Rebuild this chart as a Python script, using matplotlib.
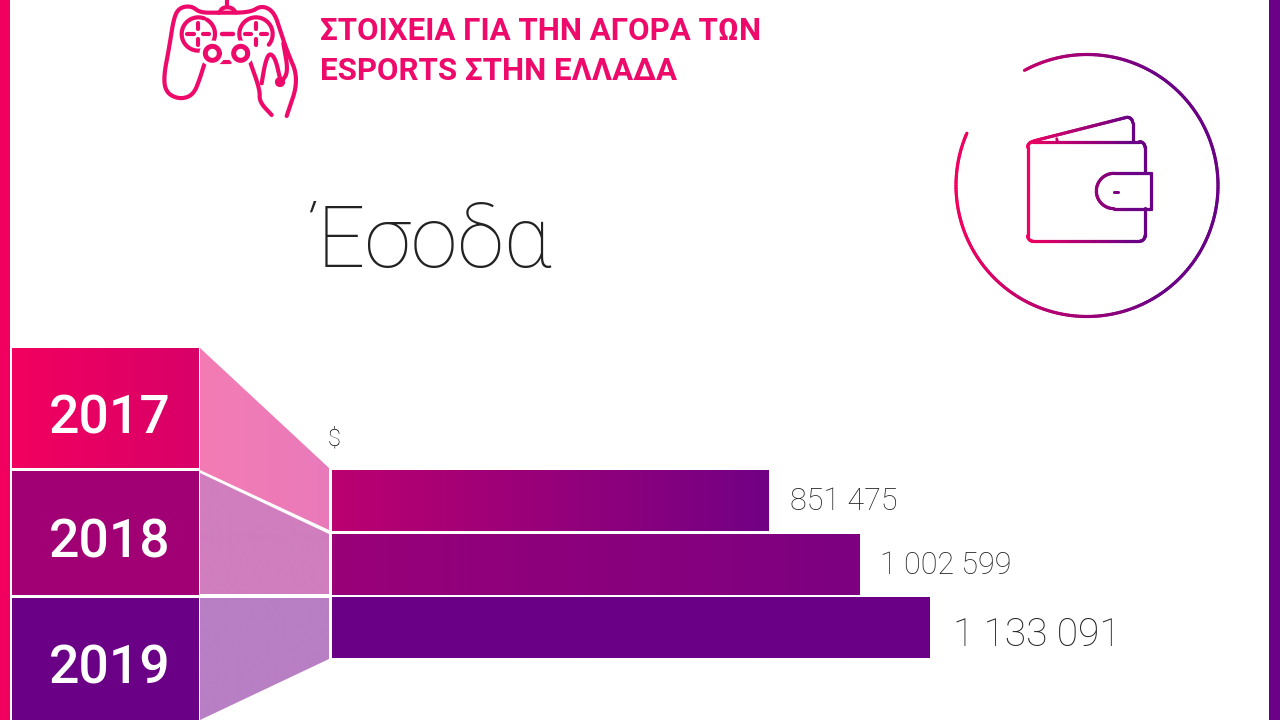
import numpy as np
import matplotlib
matplotlib.use('Agg')
import matplotlib.pyplot as plt
from matplotlib.collections import LineCollection
from matplotlib.colors import LinearSegmentedColormap
from matplotlib.patches import Polygon, Rectangle

years = ['2017', '2018', '2019']
revenue_labels = ['851 475', '1 002 599', '1 133 091']
# bar lengths, in dollars (the 2017 bar is drawn a bit short)
bar_lengths = [828000, 1000000, 1133091]

PINK = '#F2005F'
PURPLE = '#6A0085'
TITLE_PINK = '#EE0A6B'
grad = LinearSegmentedColormap.from_list('pp', [PINK, PURPLE])

plt.rcParams['font.family'] = 'Roboto'

fig = plt.figure(figsize=(12.8, 7.2), dpi=100)
bg = fig.add_axes([0, 0, 1, 1])
bg.axis('off')

# side strips
bg.add_patch(Rectangle((0, 0), 10, 720, color=PINK, lw=0))
bg.add_patch(Rectangle((1269, 0), 11, 720, color=PURPLE, lw=0))


def gradient_fill(ax, patch, c0, c1, extent):
    cmap = LinearSegmentedColormap.from_list('g', [c0, c1])
    im = ax.imshow(np.linspace(0, 1, 256).reshape(1, -1), cmap=cmap, extent=extent,
                   aspect='auto', zorder=patch.get_zorder())
    im.set_clip_path(patch)


# year blocks
block_tops = [348, 471, 598]
block_bottoms = [468, 595, 720]
block_cols = [(PINK, '#D80068'), ('#A20074', '#A00075'), (PURPLE, PURPLE)]
for y0, y1, cols, year, base in zip(block_tops, block_bottoms, block_cols, years, [433, 558, 683]):
    r = Rectangle((12, y0), 187, y1 - y0, fc='none', lw=0)
    bg.add_patch(r)
    gradient_fill(bg, r, cols[0], cols[1], (12, 199, y1, y0))
    bg.text(110, base, year, color='white', fontsize=38.5, weight='medium',
            ha='center', va='baseline', zorder=5)

# lighter connectors
connectors = [[(200, 348), (329, 468), (329, 530), (200, 470)],
              [(200, 473), (329, 534), (329, 594), (200, 594)],
              [(200, 598), (329, 598), (329, 659), (200, 720)]]
conn_cols = [('#F47CB4', '#E97ABA'), ('#D07EBE', '#D07EBE'), ('#B87FC4', '#B87FC4')]
for pts, cols in zip(connectors, conn_cols):
    p = Polygon(pts, closed=True, fc='none', lw=0)
    bg.add_patch(p)
    gradient_fill(bg, p, cols[0], cols[1], (200, 329, 720, 348))
bg.set_xlim(0, 1280)
bg.set_ylim(720, 0)

# bars, in their own axes so the length comes from the dollar scale
bar_ax = fig.add_axes([332 / 1280, 1 - 659.5 / 720, (930 - 332) / 1280, (659.5 - 469) / 720])
bar_ax.axis('off')
bars = bar_ax.barh(range(3), bar_lengths, height=0.96, color='none', lw=0)
bar_cols = [('#BB0070', '#720084'), ('#990078', '#7C0081'), (PURPLE, PURPLE)]
for b, cols in zip(bars, bar_cols):
    w = b.get_width()
    gradient_fill(bar_ax, b, cols[0], cols[1], (0, w, 2.5, -0.5))
bar_ax.set_xlim(0, bar_lengths[2])
bar_ax.set_ylim(2.5, -0.5)

# value labels
bg.text(790, 510, revenue_labels[0], fontsize=22, weight='light', color='#222222', zorder=5)
bg.text(880, 574, revenue_labels[1], fontsize=22, weight='light', color='#222222', zorder=5)
bg.text(953, 646, revenue_labels[2], fontsize=28, weight='light', color='#222222', zorder=5)
bg.text(334, 446, '$', fontsize=17, weight='light', color='#111111', ha='center')

# headings
bg.text(320, 39.5, 'ΣΤΟΙΧΕΙΑ ΓΙΑ ΤΗΝ ΑΓΟΡΑ ΤΩΝ', fontsize=22.5, weight='bold', color=TITLE_PINK)
bg.text(320, 80.5, 'ESPORTS ΣΤΗΝ ΕΛΛΑΔΑ', fontsize=22.5, weight='bold', color=TITLE_PINK)
bg.text(312, 267, 'Έσοδα', fontsize=61, weight='ultralight', color='#222222')


def smooth(pts, n=3):
    pts = np.array(pts, float)
    for _ in range(n):
        q = 0.75 * pts[:-1] + 0.25 * pts[1:]
        r = 0.25 * pts[:-1] + 0.75 * pts[1:]
        mid = np.empty((2 * len(q), 2))
        mid[0::2] = q
        mid[1::2] = r
        pts = np.vstack([pts[0], mid, pts[-1]])
    return pts


def pad(pts):
    pts = np.array(pts, float)
    return np.column_stack([150 + pts[:, 0] / 3, pts[:, 1] / 3])


def arc(cx, cy, r, a0, a1, n=60):
    t = np.radians(np.linspace(a0, a1, n))
    return np.column_stack([cx + r * np.cos(t), cy + r * np.sin(t)])


def pad_line(pts, lw=3.0, curve=True, color=TITLE_PINK):
    xy = pad(pts)
    if curve:
        xy = smooth(xy)
    bg.plot(xy[:, 0], xy[:, 1], color=color, lw=lw, solid_capstyle='round',
            solid_joinstyle='round')


pad_line([(232, 0), (232, 18)], curve=False)
pad_line([(208, 38), (218, 22), (245, 22), (258, 38)])
pad_line([(205, 38), (150, 38), (125, 18), (90, 22), (72, 50), (58, 140), (40, 235), (50, 280),
          (90, 298), (130, 285), (150, 235), (165, 185), (172, 185)])
pad_line([(205, 38), (300, 38), (335, 16), (372, 35), (392, 95), (410, 150), (447, 238), (410, 348)])
pad_line([(205, 185), (240, 185)], curve=False)
pad_line([(300, 185), (330, 270), (328, 305), (365, 345)])
pad_line([(335, 250), (345, 190), (358, 158), (376, 175), (390, 235)])
pad_line([(400, 130), (415, 215), (395, 245)])
for cx, a0, a1 in [(145, -60, 290), (318, 120, 400)]:
    pad_line(arc(cx, 102, 50, a0, a1), curve=False)
for cx in (187, 272):
    pad_line(arc(cx, 160, 26, 0, 360), lw=6, curve=False, color='white')
    pad_line(arc(cx, 160, 21, 0, 360), lw=3.6, curve=False)
pad_line(arc(390, 246, 8, 0, 360), lw=3.5, curve=False)
pad_line([(216, 102), (248, 102)], lw=3.2, curve=False)
for cx in (145, 318):
    pad_line([(cx - 33, 102), (cx - 14, 102)], lw=3, curve=False)
    pad_line([(cx + 14, 102), (cx + 33, 102)], lw=3, curve=False)
    pad_line([(cx, 70), (cx, 88)], lw=3, curve=False)
    pad_line([(cx, 116), (cx, 134)], lw=3, curve=False)


def grad_line(xy, lw, x0, x1):
    xy = np.asarray(xy, float)
    # split into short pieces so the colour can follow x
    dense = []
    for a, b in zip(xy[:-1], xy[1:]):
        steps = max(int(np.hypot(*(b - a)) / 2), 1)
        dense.append(a + np.outer(np.linspace(0, 1, steps, endpoint=False), b - a))
    dense.append(xy[-1:])
    d = np.vstack(dense)
    segs = np.stack([d[:-1], d[1:]], axis=1)
    cols = grad(np.clip((segs[:, :, 0].mean(axis=1) - x0) / (x1 - x0), 0, 1))
    bg.add_collection(LineCollection(segs, colors=cols, linewidths=lw, capstyle='round'))


# ring with the gap at upper left
grad_line(arc(1087, 185.5, 131, -118.5, 203.5, 300), 2.3, 955, 1160)


def wal(pts):
    pts = np.array(pts, float)
    return np.column_stack([940 + pts[:, 0] / 3, 40 + pts[:, 1] / 3])


wx0, wx1 = 1026, 1130
body = np.vstack([arc(280, 322, 17, 180, 270, 10), arc(598, 322, 17, 270, 360, 10),
                  [(615, 400)]])
grad_line(wal(body), 2.3, wx0, wx1)
body2 = np.vstack([[(615, 505)], arc(598, 587, 17, 0, 90, 10), arc(280, 587, 17, 90, 180, 10),
                   [(263, 322)]])
grad_line(wal(body2), 2.3, wx0, wx1)
flap = np.vstack([[(280, 303)], arc(562, 248, 16, -100, 0, 10), [(578, 303)]])
grad_line(wal(flap), 2.3, wx0, wx1)
grad_line(wal([(350, 296), (352, 303)]), 2, wx0, wx1)
clasp = np.vstack([[(632, 400), (632, 506)], arc(522, 453, 53, 90, 270, 30), [(632, 400)]])
grad_line(wal(clasp), 2.3, wx0, wx1)
grad_line(wal([(521, 455), (533, 455)]), 2.2, wx0, wx1)

bg.set_xlim(0, 1280)
bg.set_ylim(720, 0)
fig.savefig('out.png', dpi=100)
